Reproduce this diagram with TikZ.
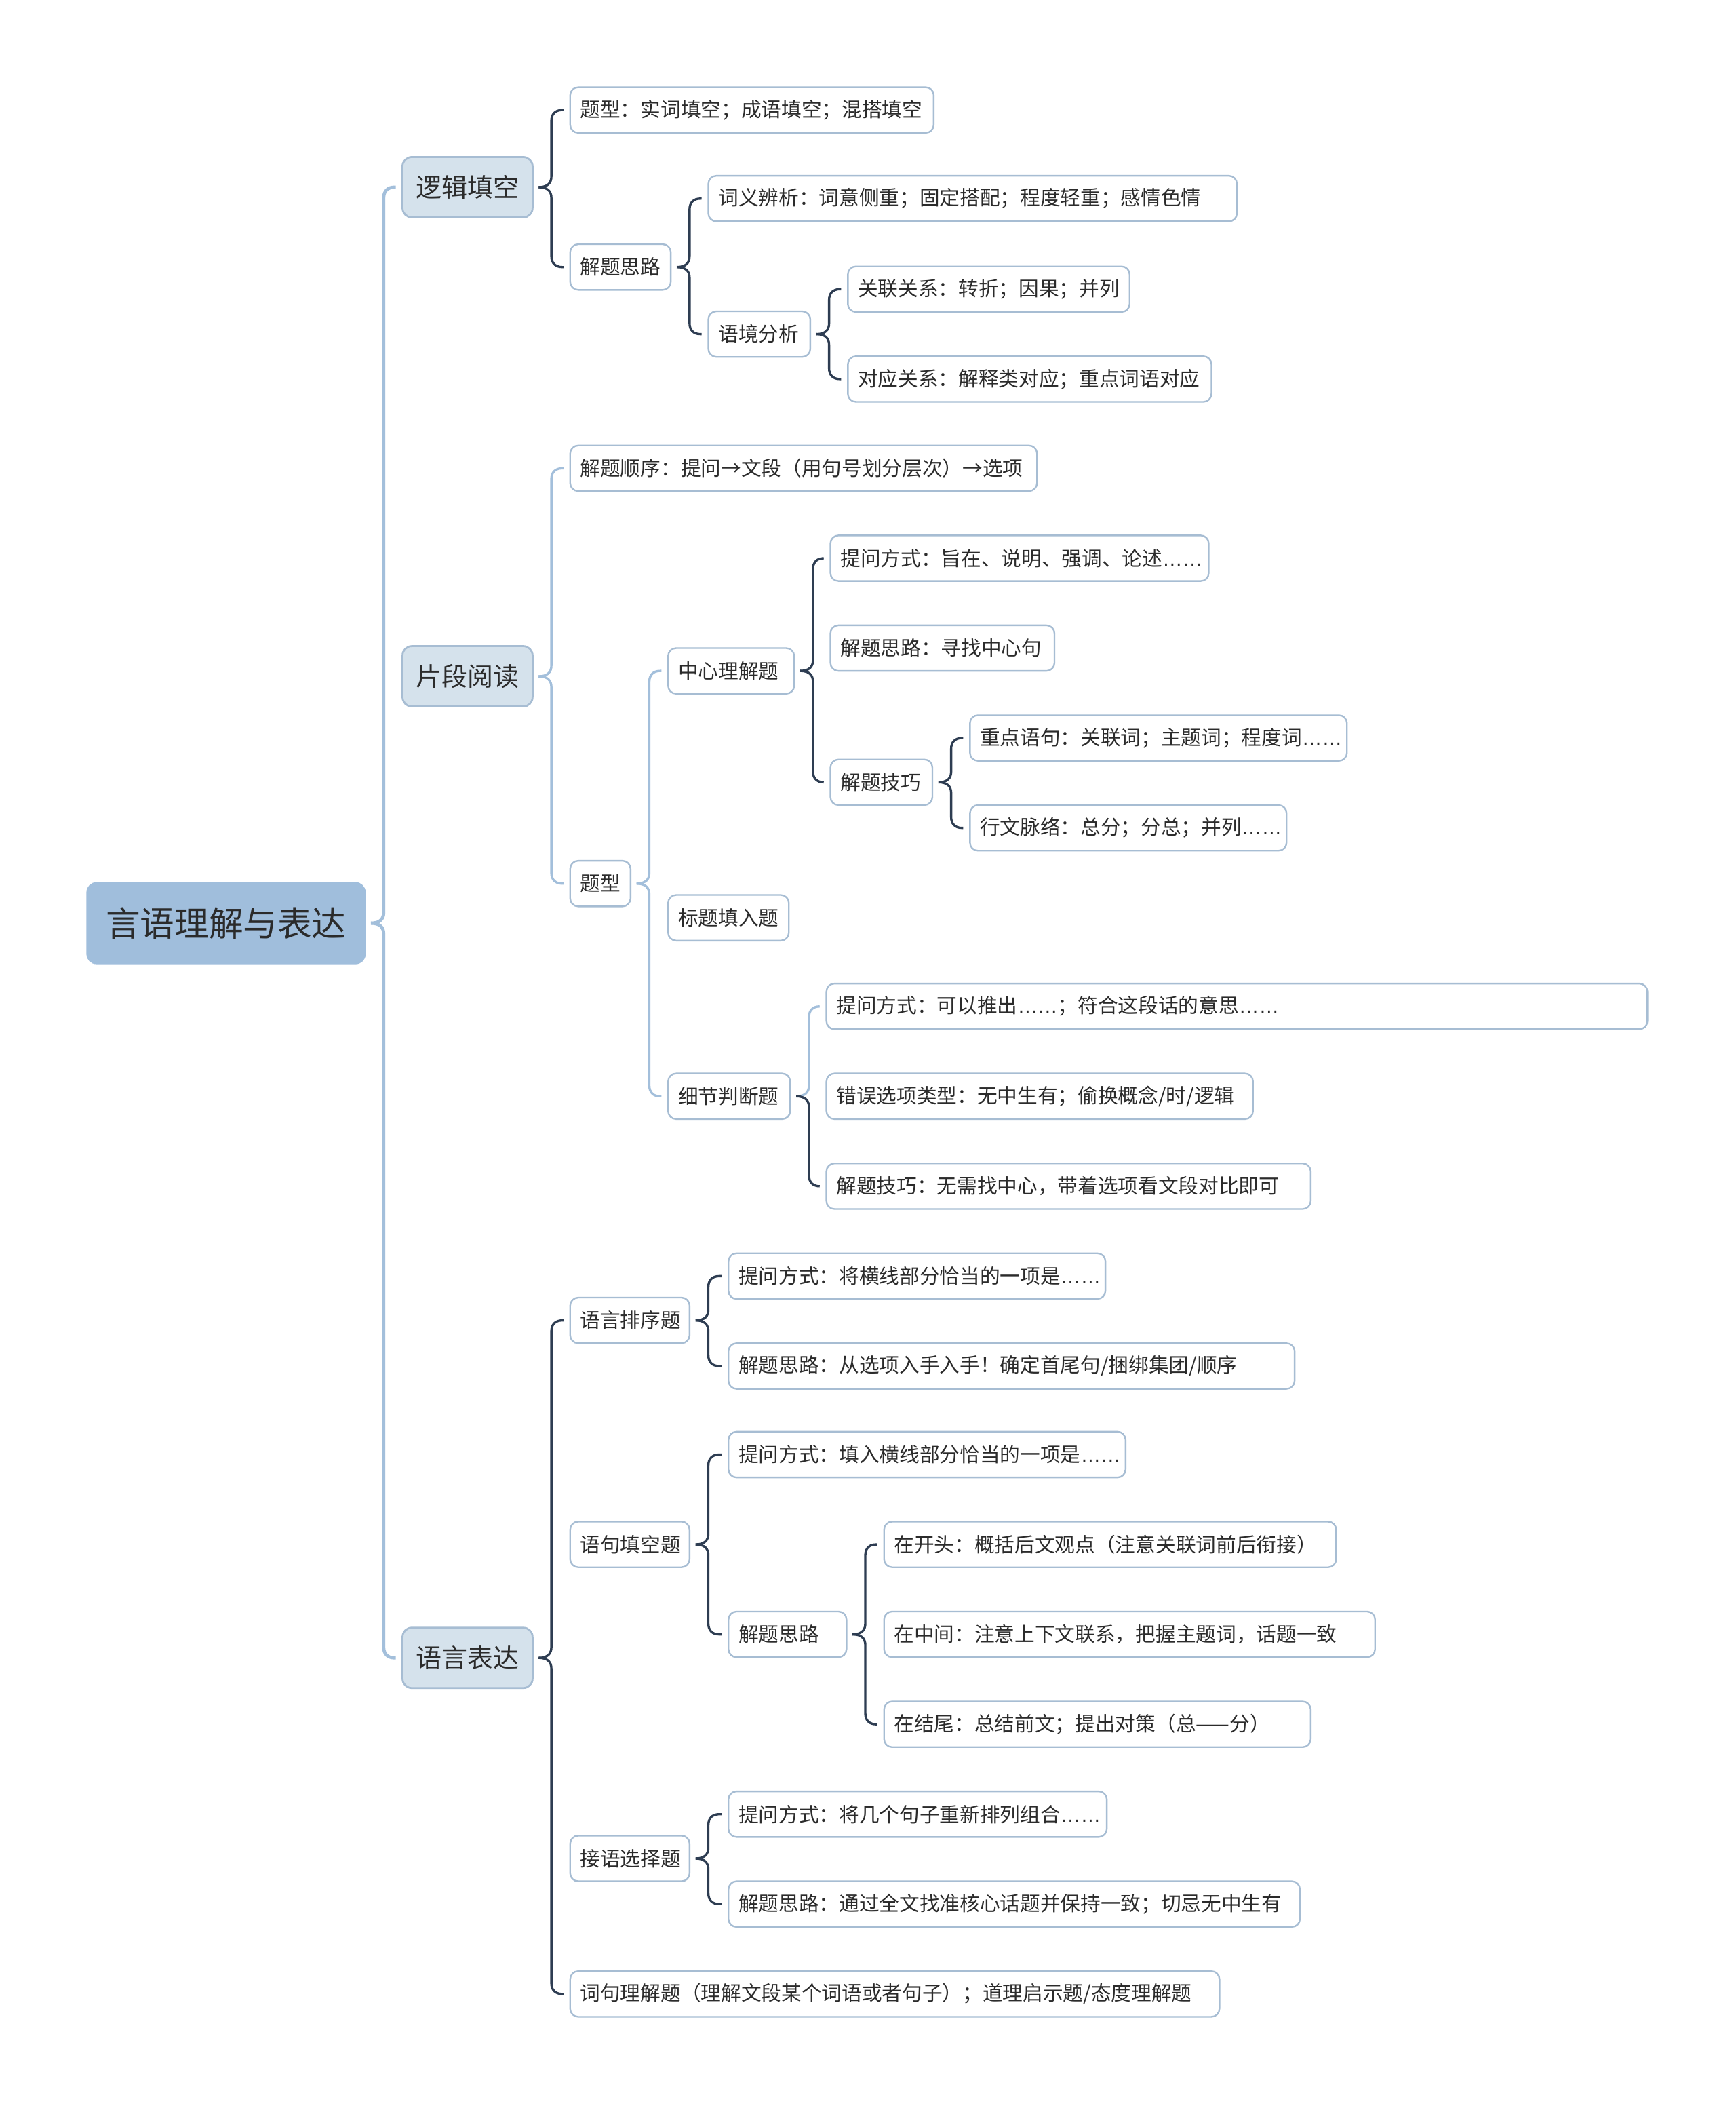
\documentclass[tikz,border=0pt]{standalone}
\usepackage{fontspec}
\setmainfont{Noto Sans CJK SC}
\newfontfamily\latfont{Liberation Sans}
\usetikzlibrary{calc}
\definecolor{rootfill}{HTML}{A0BEDC}
\definecolor{lonefill}{HTML}{D5E2EC}
\definecolor{boxline}{HTML}{A7BDD3}
\definecolor{lightconn}{HTML}{A3BFDB}
\definecolor{darkconn}{HTML}{2E3D52}
\definecolor{txt}{HTML}{2B2B2B}
\newcommand\leaffont{\fontsize{7.5}{9}\selectfont}
\newcommand\elps{{\latfont ……}}
\newlength\leafw
\tikzset{
  leaf/.style={draw=boxline, line width=0.6pt, fill=white, rounded corners=3pt, anchor=west,
    outer sep=0pt, inner xsep=3.75pt, inner ysep=0pt, minimum height=17pt, align=left,
    text=txt, font=\leaffont},
  lone/.style={draw=boxline, line width=0.7pt, fill=lonefill, rounded corners=3.5pt, anchor=west,
    outer sep=0pt, inner sep=0pt, minimum width=48.5pt, minimum height=22.5pt, text=txt,
    font=\fontsize{9.6}{11}\selectfont},
  rootbox/.style={draw=rootfill, line width=0.6pt, fill=rootfill, rounded corners=3.5pt, anchor=west,
    outer sep=0pt, inner sep=0pt, minimum width=103.5pt, minimum height=30pt, text=txt,
    font=\fontsize{12.8}{15}\selectfont},
  lightc/.style={draw=lightconn, line width=0.85pt},
  darkc/.style={draw=darkconn, line width=0.85pt},
  trunkc/.style={draw=lightconn, line width=1.2pt},
}
% leaf: name, left, right, center y, text
\newcommand\leafnode[5]{%
  \settowidth\leafw{\leaffont #5}%
  \pgfmathsetlengthmacro\bw{max(\leafw+0.5pt,(#3-#2)*0.5pt-7.5pt)}%
  \node[leaf,text width=\bw] (#1) at (#2,#4) {#5};}
% brace-like connector: style, parent, child
\newcommand\brlink[3]{%
  \draw[#1] let \p1=(#2.east), \p2=(#3.west), \n1={ifthenelse(\y2>\y1,1,-1)} in
    ({\x1+2.25pt},\y1) .. controls ({\x1+5.5pt},\y1) and ({\x1+7pt},{\y1+(\n1)*1.5pt}) ..
    ({\x1+7pt},{\y1+(\n1)*4pt}) -- ({\x1+7pt},{\y2-(\n1)*4pt})
    .. controls ({\x1+7pt},{\y2-(\n1)*1.5pt}) and ({\x1+8.5pt},\y2) .. ({\x1+11pt},\y2)
    -- ({\x2-2.5pt},\y2);}
\begin{document}
\begin{tikzpicture}[x=0.5pt,y=-0.5pt]
\useasboundingbox (0,0) rectangle (1294,1568);
\fill[white] (0,0) rectangle (1294,1568);

\node[rootbox] (root) at (65,688) {言语理解与表达};
\node[lone] (ljtk) at (300,139.5) {逻辑填空};
\node[lone] (pdyd) at (300,504) {片段阅读};
\node[lone] (yybd) at (300,1235.5) {语言表达};

% 逻辑填空
\leafnode{t1}{425}{696}{82}{题型：实词填空；成语填空；混搭填空}
\leafnode{t2}{425}{500}{199}{解题思路}
\leafnode{t3}{528}{922}{148}{词义辨析：词意侧重；固定搭配；程度轻重；感情色情}
\leafnode{t4}{528}{604}{249}{语境分析}
\leafnode{t5}{632}{842}{215.5}{关联关系：转折；因果；并列}
\leafnode{t6}{632}{903}{282.5}{对应关系：解释类对应；重点词语对应}

% 片段阅读
\leafnode{p1}{425}{773}{349}{解题顺序：提问→文段（用句号划分层次）→选项}
\leafnode{p2}{425}{470}{658.5}{题型}
\leafnode{p3}{498}{592}{500}{中心理解题}
\leafnode{p4}{498}{588}{684}{标题填入题}
\leafnode{p5}{498}{589}{817}{细节判断题}
\leafnode{p6}{619}{901}{416}{提问方式：旨在、说明、强调、论述\elps}
\leafnode{p7}{619}{786}{483}{解题思路：寻找中心句}
\leafnode{p8}{619}{695}{583}{解题技巧}
\leafnode{p9}{723}{1004}{550}{重点语句：关联词；主题词；程度词\elps}
\leafnode{p10}{723}{959}{617}{行文脉络：总分；分总；并列\elps}
\leafnode{p11}{616}{1228}{750}{提问方式：可以推出\elps；符合这段话的意思\elps}
\leafnode{p12}{616}{934}{817}{错误选项类型：无中生有；偷换概念/时/逻辑}
\leafnode{p13}{616}{977}{884}{解题技巧：无需找中心，带着选项看文段对比即可}

% 语言表达
\leafnode{y1}{425}{514}{984}{语言排序题}
\leafnode{y2}{425}{514}{1151}{语句填空题}
\leafnode{y3}{425}{514}{1385}{接语选择题}
\leafnode{y4}{425}{909}{1486}{词句理解题（理解文段某个词语或者句子）；道理启示题/态度理解题}
\leafnode{y5}{543}{824}{951}{提问方式：将横线部分恰当的一项是\elps}
\leafnode{y6}{543}{965}{1018}{解题思路：从选项入手入手！确定首尾句/捆绑集团/顺序}
\leafnode{y7}{543}{839}{1084}{提问方式：填入横线部分恰当的一项是\elps}
\leafnode{y8}{543}{631}{1218}{解题思路}
\leafnode{y9}{659}{996}{1151}{在开头：概括后文观点（注意关联词前后衔接）}
\leafnode{y10}{659}{1025}{1218}{在中间：注意上下文联系，把握主题词，话题一致}
\leafnode{y11}{659}{977}{1285}{在结尾：总结前文；提出对策（总——分）}
\leafnode{y12}{543}{825}{1352}{提问方式：将几个句子重新排列组合\elps}
\leafnode{y13}{543}{969}{1419}{解题思路：通过全文找准核心话题并保持一致；切忌无中生有}

% connectors
\brlink{trunkc}{root}{ljtk}
\brlink{trunkc}{root}{yybd}

\brlink{darkc}{ljtk}{t1}
\brlink{darkc}{ljtk}{t2}
\brlink{darkc}{t2}{t3}
\brlink{darkc}{t2}{t4}
\brlink{darkc}{t4}{t5}
\brlink{darkc}{t4}{t6}

\brlink{lightc}{pdyd}{p1}
\brlink{lightc}{pdyd}{p2}
\brlink{lightc}{p2}{p3}
\brlink{lightc}{p2}{p5}
\brlink{darkc}{p3}{p6}
\brlink{darkc}{p3}{p8}
\brlink{darkc}{p8}{p9}
\brlink{darkc}{p8}{p10}
\brlink{lightc}{p5}{p11}
\brlink{darkc}{p5}{p13}

\brlink{darkc}{yybd}{y1}
\brlink{darkc}{yybd}{y4}
\brlink{darkc}{y1}{y5}
\brlink{darkc}{y1}{y6}
\brlink{darkc}{y2}{y7}
\brlink{darkc}{y2}{y8}
\brlink{darkc}{y8}{y9}
\brlink{darkc}{y8}{y11}
\brlink{darkc}{y3}{y12}
\brlink{darkc}{y3}{y13}
\end{tikzpicture}
\end{document}
